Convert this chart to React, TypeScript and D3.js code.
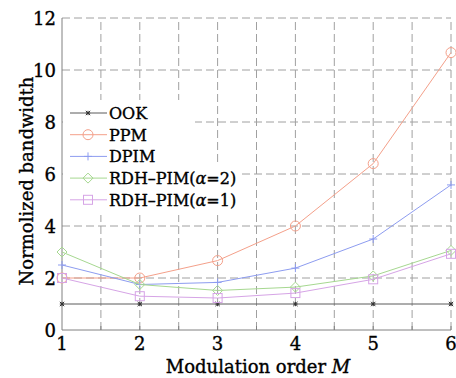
import React from "react";
import * as d3 from "d3";

const orders = [1, 2, 3, 4, 5, 6];
const ookValues = [1, 1, 1, 1, 1, 1];
const ppmValues = [2, 2, 2.67, 4, 6.4, 10.67];
const dpimValues = [2.5, 1.75, 1.83, 2.38, 3.5, 5.58];
const rdh2Values = [3.0, 1.75, 1.52, 1.65, 2.08, 3.06];
const rdh1Values = [2.0, 1.3, 1.23, 1.42, 1.95, 2.93];
const xTicks = [1, 2, 3, 4, 5, 6];
const yTicks = [0, 2, 4, 6, 8, 10, 12];
const xGrid = [1.5, 2, 2.5, 3, 3.5, 4, 4.5, 5, 5.5, 6];
const yGrid = [2, 4, 6, 8, 10, 12];

type Series = { name: string; alpha?: string; values: number[]; color: string; marker: string };
const series: Series[] = [
  { name: "OOK", values: ookValues, color: "#5a5a5a", marker: "star" },
  { name: "PPM", values: ppmValues, color: "#f4a08a", marker: "circle" },
  { name: "DPIM", values: dpimValues, color: "#8d9cf0", marker: "plus" },
  { name: "RDH\u2013PIM(", alpha: "2", values: rdh2Values, color: "#a6d890", marker: "diamond" },
  { name: "RDH\u2013PIM(", alpha: "1", values: rdh1Values, color: "#d6a4e6", marker: "square" },
];

const FONT = "'DejaVu Serif', serif";

function Marker({ type, x, y, color }: { type: string; x: number; y: number; color: string }) {
  const s = 5;
  if (type === "circle") return <circle cx={x} cy={y} r={5} fill="none" stroke={color} strokeWidth={1} />;
  if (type === "square")
    return <rect x={x - 4.5} y={y - 4.5} width={9} height={9} fill="none" stroke={color} strokeWidth={1} />;
  if (type === "diamond")
    return <path d={`M${x},${y - s}L${x + s},${y}L${x},${y + s}L${x - s},${y}Z`} fill="none" stroke={color} strokeWidth={1} />;
  if (type === "plus")
    return <path d={`M${x - 4},${y}H${x + 4}M${x},${y - 4}V${y + 4}`} stroke={color} strokeWidth={1} />;
  const r = 2.2;
  return (
    <path
      d={`M${x - r},${y}H${x + r}M${x},${y - r}V${y + r}M${x - r},${y - r}L${x + r},${y + r}M${x - r},${y + r}L${x + r},${y - r}`}
      stroke="#333"
      strokeWidth={1}
    />
  );
}

export default function App() {
  const W = 456, H = 378;
  const x = d3.scaleLinear().domain([1, 6]).range([62, 451]);
  const y = d3.scaleLinear().domain([0, 12]).range([330, 18]);
  const line = d3.line<number>().x((_, i) => x(orders[i])).y((v) => y(v));

  const legX = 70, legY0 = 113, legDy = 21.7;
  const textStyle = { fill: "#000", stroke: "#000", strokeWidth: 0.35 };

  return (
    <svg width={W} height={H} style={{ position: "absolute", left: 0, top: 0, background: "#fff" }} fontFamily={FONT}>
      <rect x={0} y={0} width={W} height={H} fill="#fff" />
      {xGrid.map((g) => (
        <line key={"xg" + g} x1={x(g)} x2={x(g)} y1={y(0)} y2={y(12)} stroke="#a0a0a0" strokeWidth={1} strokeDasharray="8,4" />
      ))}
      {yGrid.map((g) => (
        <line key={"yg" + g} x1={x(1)} x2={x(6)} y1={y(g)} y2={y(g)} stroke="#a0a0a0" strokeWidth={1} strokeDasharray="8,4" />
      ))}
      <line x1={x(1)} x2={x(1)} y1={y(0)} y2={y(12)} stroke="#808080" strokeWidth={1} />
      <line x1={x(1)} x2={x(6)} y1={y(0)} y2={y(0)} stroke="#808080" strokeWidth={1} />
      {xGrid.map((g) => (
        <line key={"xt" + g} x1={x(g)} x2={x(g)} y1={y(0)} y2={y(0) - 4} stroke="#808080" strokeWidth={1} />
      ))}
      {series.map((s, si) => (
        <g key={"s" + si}>
          <path d={line(s.values) || ""} fill="none" stroke={s.color} strokeWidth={1} />
          {s.values.map((v, i) => (
            <Marker key={i} type={s.marker} x={x(orders[i])} y={y(v)} color={s.color} />
          ))}
        </g>
      ))}
      <rect x={63} y={100} width={132} height={115} fill="#fff" />
      <rect x={195} y={163} width={45} height={52} fill="#fff" />
      {series.map((s, i) => {
        const ly = legY0 + i * legDy;
        return (
          <g key={"l" + i}>
            <line x1={legX} x2={legX + 37} y1={ly} y2={ly} stroke={s.color} strokeWidth={1} />
            <Marker type={s.marker} x={legX + 18} y={ly} color={s.color} />
            <text x={legX + 39} y={ly + 6} fontSize={16} {...textStyle}>
              {s.name}
              {s.alpha !== undefined && (
                <>
                  <tspan fontStyle="italic">α</tspan>={s.alpha})
                </>
              )}
            </text>
          </g>
        );
      })}
      {xTicks.map((t) => (
        <text key={"xl" + t} x={x(t)} y={350} fontSize={18} textAnchor="middle" {...textStyle}>
          {t}
        </text>
      ))}
      {yTicks.map((t) => (
        <text key={"yl" + t} x={56} y={y(t) + 7} fontSize={18} textAnchor="end" {...textStyle}>
          {t}
        </text>
      ))}
      <text x={258} y={373} fontSize={18} textAnchor="middle" {...textStyle}>
        Modulation order <tspan fontStyle="italic">M</tspan>
      </text>
      <text transform={`translate(33,181) rotate(-90)`} fontSize={18} textAnchor="middle" {...textStyle}>
        Normolized bandwidth
      </text>
    </svg>
  );
}
